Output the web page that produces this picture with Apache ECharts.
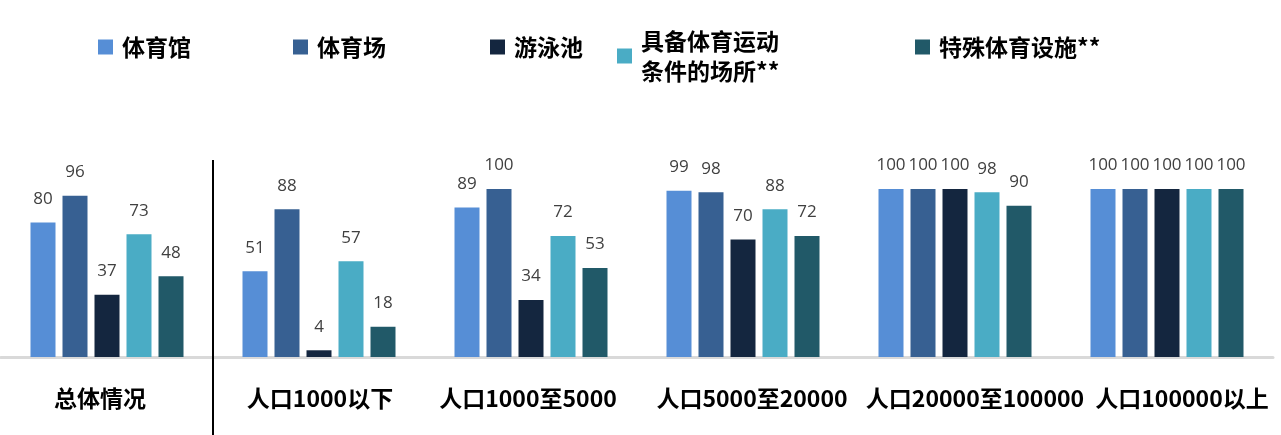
<!DOCTYPE html>
<html>
<head>
<meta charset="utf-8">
<script src="https://cdn.jsdelivr.net/npm/echarts@6/dist/echarts.min.js"></script>
<style>
html,body{margin:0;padding:0;background:#fff;}
#main{width:1281px;height:435px;}
</style>
</head>
<body>
<div id="main"></div>
<script>
const categories = ['总体情况', '人口1000以下', '人口1000至5000', '人口5000至20000', '人口20000至100000', '人口100000以上'];
const seriesNames = ['体育馆', '体育场', '游泳池', '具备体育运动\n条件的场所**', '特殊体育设施**'];
const gym      = [80, 51, 89, 99, 100, 100];
const stadium  = [96, 88, 100, 98, 100, 100];
const pool     = [37, 4, 34, 70, 100, 100];
const venues   = [73, 57, 72, 88, 98, 100];
const special  = [48, 18, 53, 72, 90, 100];
const seriesValues = [gym, stadium, pool, venues, special];
const colors = ['#568ed6', '#376092', '#14263f', '#4aacc5', '#215968'];

// horizontal nudge of each category label (px), style only
const labelShift = [-7, 1, -3, 9, 20, 15];

const legendLeft = [98, 293, 490, 617, 915];
const legendTop = [32, 32, 32, 26, 32];

const cjk = '"Noto Sans CJK SC", sans-serif';

const legends = seriesNames.map((n, i) => ({
  data: [n],
  left: legendLeft[i],
  top: legendTop[i],
  padding: 0,
  orient: 'horizontal',
  itemWidth: 15,
  itemHeight: 15,
  itemGap: 0,
  icon: 'rect',
  selectedMode: false,
  textStyle: {
    fontFamily: cjk,
    fontSize: 23,
    fontWeight: 'bold',
    color: '#000',
    lineHeight: 30,
    padding: [0, 0, 0, 4]
  }
}));

const series = seriesNames.map((n, i) => ({
  name: n,
  type: 'bar',
  data: seriesValues[i],
  barWidth: 25,
  barGap: '28%',
  itemStyle: { color: colors[i] },
  label: {
    show: true,
    position: 'top',
    distance: 15,
    color: '#404040',
    fontFamily: '"Open Sans", sans-serif',
    fontSize: 17
  }
}));

const axisData = categories.map((c, i) => {
  const s = labelShift[i];
  return {
    value: c,
    textStyle: { padding: s >= 0 ? [0, 0, 0, 2 * s] : [0, -2 * s, 0, 0] }
  };
});

const chart = echarts.init(document.getElementById('main'));
chart.setOption({
  animation: false,
  legend: legends,
  grid: { left: 1, right: 8, top: 189, bottom: 78, containLabel: false },
  xAxis: {
    type: 'category',
    data: axisData,
    axisLine: { show: true, lineStyle: { color: '#d9d9d9', width: 3 } },
    axisTick: { show: false },
    axisLabel: {
      interval: 0,
      margin: 30,
      fontFamily: cjk,
      fontSize: 23,
      fontWeight: 'bold',
      color: '#000'
    }
  },
  yAxis: {
    type: 'value',
    min: 0,
    max: 100,
    show: false,
    splitLine: { show: false }
  },
  series: series
});

const c0 = chart.convertToPixel({ xAxisIndex: 0 }, categories[0]);
const c1 = chart.convertToPixel({ xAxisIndex: 0 }, categories[1]);
const sepX = (c0 + c1) / 2;
chart.setOption({
  graphic: [{
    type: 'line',
    shape: { x1: sepX, y1: 160, x2: sepX, y2: 435 },
    style: { stroke: '#000', lineWidth: 2 },
    z: 10
  }]
});
</script>
</body>
</html>
